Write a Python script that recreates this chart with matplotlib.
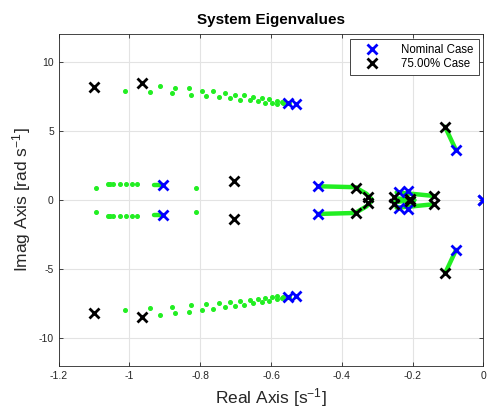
import matplotlib
matplotlib.use("Agg")
import matplotlib.pyplot as plt
import numpy as np

plt.rcParams['font.family'] = ['Liberation Sans', 'DejaVu Sans']
plt.rcParams['mathtext.fontset'] = 'custom'
plt.rcParams['mathtext.rm'] = 'Liberation Sans'
plt.rcParams['mathtext.it'] = 'Liberation Sans'
plt.rcParams['mathtext.bf'] = 'Liberation Sans:bold'

# Nominal case eigenvalues (upper half-plane + real), conjugates added below
nominal_re = [-0.551, -0.530, -0.905, -0.467, -0.237, -0.213, -0.077, 0.0]
nominal_im = [7.0, 6.95, 1.1, 1.0, 0.55, 0.65, 3.6, 0.0]

# 75% case eigenvalues
case75_re = [-1.100, -0.966, -0.704, -0.360, -0.326, -0.252, -0.207, -0.138, -0.108]
case75_im = [8.15, 8.45, 1.40, 0.90, 0.22, 0.25, 0.10, 0.28, 5.30]

# intermediate eigenvalue dots (upper half-plane)
dots_re = [-0.915, -0.871, -0.833, -0.796, -0.764, -0.731, -0.703, -0.676, -0.651,
           -0.626, -0.605, -0.583, -0.570, -0.550,
           -1.013, -0.941, -0.880, -0.827, -0.784, -0.747, -0.715, -0.687, -0.660,
           -0.638, -0.618, -0.598, -0.582, -0.565,
           -1.096, -1.060, -1.054, -1.046, -1.027, -1.010, -0.994, -0.978, -0.811,
           0.0]
dots_im = [8.28, 8.14, 8.07, 7.92, 7.87, 7.71, 7.63, 7.58, 7.44,
           7.37, 7.30, 7.17, 7.08, 7.00,
           7.92, 7.78, 7.71, 7.58, 7.49, 7.42, 7.37, 7.27, 7.22,
           7.13, 7.05, 7.00, 6.96, 7.00,
           0.85, 1.18, 1.18, 1.18, 1.18, 1.18, 1.18, 1.16, 0.85,
           0.0]

# dense trails (drawn as thick green paths), upper half-plane
trails = [
    ([-0.467, -0.42, -0.36], [1.00, 0.97, 0.93]),
    ([-0.36, -0.33, -0.315], [0.90, 0.45, 0.05]),
    ([-0.245, -0.20, -0.14], [0.55, 0.45, 0.30]),
    ([-0.25, -0.22, -0.195], [0.15, 0.05, 0.0]),
    ([-0.077, -0.108], [3.6, 5.3]),
    ([-0.932, -0.905], [1.10, 1.10]),
]

green = '#22ee22'

fig = plt.figure(figsize=(4.91, 4.16), dpi=100)
ax = fig.add_axes([0.1196, 0.120, 0.8647, 0.798])

for tr_re, tr_im in trails:
    ax.plot(tr_re, tr_im, color=green, lw=3.2, solid_capstyle='round', zorder=2)
    ax.plot(tr_re, [-v for v in tr_im], color=green, lw=3.2, solid_capstyle='round', zorder=2)

d_re = dots_re + dots_re
d_im = dots_im + [-v for v in dots_im]
ax.plot(d_re, d_im, linestyle='none', marker='o', ms=2.6, color=green, mec=green, zorder=2)

n_re = nominal_re + nominal_re
n_im = nominal_im + [-v for v in nominal_im]
ax.plot(n_re, n_im, linestyle='none', marker='x', ms=7.5, mew=2.0, color='blue',
        label='Nominal Case', zorder=3)

c_re = case75_re + case75_re
c_im = case75_im + [-v for v in case75_im]
ax.plot(c_re, c_im, linestyle='none', marker='x', ms=7.5, mew=2.0, color='black',
        label='75.00% Case', zorder=3)

ax.set_xlim(-1.2, 0)
ax.set_ylim(-12, 12)
ax.set_xticks([-1.2, -1.0, -0.8, -0.6, -0.4, -0.2, 0])
ax.set_xticklabels(['-1.2', '-1', '-0.8', '-0.6', '-0.4', '-0.2', '0'])
ax.set_yticks([-10, -5, 0, 5, 10])
ax.set_yticklabels(['-10', '-5', '0', '5', '10'])
ax.grid(True, color='#e3e3e3', lw=0.8)
ax.set_axisbelow(True)
ax.tick_params(direction='in', top=True, right=True, labelsize=7.5,
               colors='#262626', length=3, width=0.6)
for s in ax.spines.values():
    s.set_color('#262626')
    s.set_linewidth(0.6)

ax.set_title('System Eigenvalues', fontsize=11, fontweight='bold', pad=7)
ax.set_xlabel(r'Real Axis [s$^{\mathregular{-1}}$]', fontsize=12.5, color='#262626', labelpad=4)
ax.set_ylabel(r'Imag Axis [rad s$^{\mathregular{-1}}$]', fontsize=12.5, color='#262626', labelpad=4)

leg = ax.legend(loc='upper right', fontsize=8.3, fancybox=False, framealpha=1,
                edgecolor='#262626', borderaxespad=0.4, handlelength=3.0,
                handletextpad=1.0, borderpad=0.45, labelspacing=0.15,
                markerscale=1.0)
leg.get_frame().set_linewidth(0.6)

fig.savefig('out.png', dpi=100)
